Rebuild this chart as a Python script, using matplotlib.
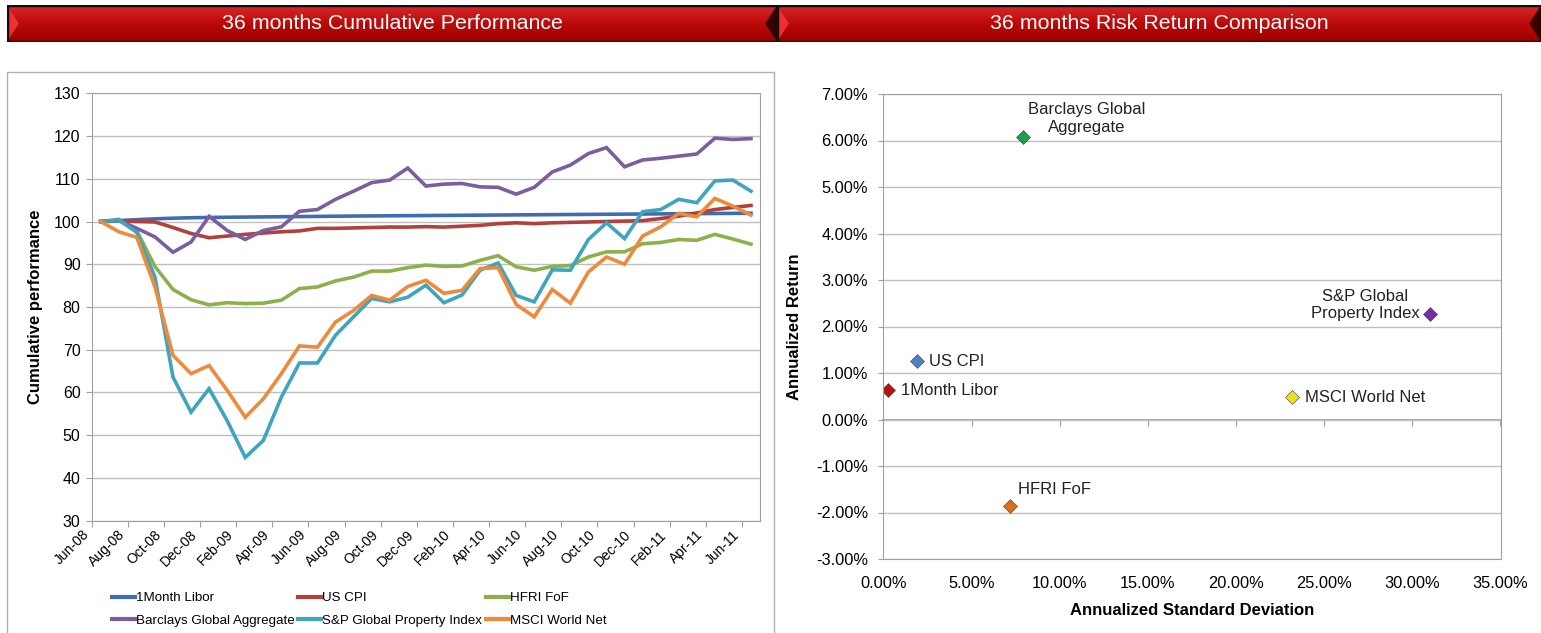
import numpy as np
import matplotlib
matplotlib.use('Agg')
import matplotlib.pyplot as plt
from matplotlib.lines import Line2D
from matplotlib.patches import Rectangle, Polygon
from matplotlib.colors import LinearSegmentedColormap
from matplotlib.ticker import FuncFormatter

plt.rcParams['font.family'] = ['Liberation Sans', 'DejaVu Sans']

# ---- cumulative performance (index = 100 at Jun-08), monthly Jun-08 .. Jun-11
libor = [100.0, 100.22, 100.43, 100.62, 100.78, 100.88, 100.95, 101.0, 101.04, 101.08,
         101.12, 101.16, 101.2, 101.24, 101.28, 101.31, 101.34, 101.37, 101.4, 101.43,
         101.46, 101.49, 101.52, 101.55, 101.58, 101.61, 101.64, 101.67, 101.7, 101.73,
         101.76, 101.79, 101.82, 101.85, 101.88, 101.91, 101.94]
us_cpi = [100.0, 100.1, 100.0, 99.9, 98.6, 97.2, 96.2, 96.6, 97.0, 97.3, 97.6, 97.8,
          98.4, 98.4, 98.5, 98.6, 98.7, 98.7, 98.8, 98.7, 98.9, 99.1, 99.5, 99.7, 99.5,
          99.7, 99.8, 99.9, 100.0, 100.1, 100.2, 100.7, 101.25, 102.0, 102.8, 103.3, 103.75]
hfri = [100.0, 100.2, 97.8, 89.5, 84.1, 81.7, 80.5, 81.0, 80.8, 80.9, 81.6, 84.3, 84.7,
        86.1, 87.0, 88.4, 88.4, 89.2, 89.8, 89.5, 89.6, 90.9, 92.0, 89.4, 88.6, 89.5,
        89.7, 91.7, 92.9, 92.9, 94.8, 95.1, 95.8, 95.6, 97.0, 95.9, 94.7]
barclays = [100.0, 100.3, 98.4, 96.4, 92.8, 95.2, 101.2, 97.9, 95.8, 97.9, 98.75, 102.4,
            102.8, 105.2, 107.1, 109.1, 109.7, 112.5, 108.3, 108.75, 108.9, 108.1, 108.0,
            106.4, 108.0, 111.6, 113.2, 115.9, 117.3, 112.8, 114.4, 114.8, 115.3, 115.8,
            119.5, 119.2, 119.4]
sp_property = [100.0, 100.5, 97.4, 87.0, 63.6, 55.4, 60.9, 53.4, 44.8, 48.75, 58.9, 66.9,
               66.9, 73.4, 77.7, 82.0, 81.2, 82.3, 85.1, 81.0, 82.8, 88.6, 90.3, 82.7,
               81.2, 88.7, 88.6, 95.8, 99.7, 96.0, 102.3, 102.8, 105.2, 104.4, 109.5,
               109.7, 107.1]
msci = [100.0, 97.6, 96.3, 84.7, 68.7, 64.4, 66.3, 60.5, 54.2, 58.5, 64.4, 70.9, 70.6,
        76.5, 79.2, 82.7, 81.6, 84.8, 86.25, 83.2, 83.9, 89.0, 89.2, 80.6, 77.7, 84.1,
        80.9, 88.2, 91.7, 90.0, 96.6, 98.75, 101.9, 101.1, 105.4, 103.6, 101.5]

tick_labels = ['Jun-08', 'Aug-08', 'Oct-08', 'Dec-08', 'Feb-09', 'Apr-09', 'Jun-09',
               'Aug-09', 'Oct-09', 'Dec-09', 'Feb-10', 'Apr-10', 'Jun-10', 'Aug-10',
               'Oct-10', 'Dec-10', 'Feb-11', 'Apr-11', 'Jun-11']

series = [('1Month Libor', libor, '#3F6DB0'),
          ('US CPI', us_cpi, '#B2403D'),
          ('HFRI FoF', hfri, '#8DB04C'),
          ('Barclays Global Aggregate', barclays, '#7B5E9F'),
          ('S&P Global Property Index', sp_property, '#3FA5BE'),
          ('MSCI World Net', msci, '#EE8A3C')]

# ---- risk / return
rr_names = ['1Month Libor', 'US CPI', 'HFRI FoF', 'Barclays Global\nAggregate',
            'S&P Global\nProperty Index', 'MSCI World Net']
rr_std = [0.28, 1.88, 7.18, 7.9, 30.98, 23.2]
rr_ret = [0.63, 1.25, -1.85, 6.07, 2.27, 0.48]
rr_colors = ['#B01515', '#4F81BD', '#D8701A', '#1E9E4E', '#7030A0', '#E8E020']
rr_offsets = [(9, -0.5), (8.8, 0), (6, 11.2), (45.7, 13.5), (-46.4, 6.6), (8.8, 0)]
rr_align = ['left', 'left', 'left', 'center', 'center', 'left']

W, H = 1541, 633
fig = plt.figure(figsize=(W / 100, H / 100), dpi=100)

grid_c = '#BFBFBF'
frame_c = '#A0A0A0'


def header(x0, x1, title):
    hx = fig.add_axes([x0 / W, 1 - 42 / H, (x1 - x0) / W, 37 / H])
    w = x1 - x0
    cmap = LinearSegmentedColormap.from_list('bar', ['#D82828', '#BC0A0A', '#9C0000'])
    hx.imshow(np.linspace(0, 1, 60).reshape(-1, 1), aspect='auto', cmap=cmap,
              extent=[0, w, 0, 37], origin='upper')
    hx.add_patch(Polygon([(1, 3), (11, 18.5), (1, 34)], color='#F03030'))
    hx.add_patch(Polygon([(w - 1, 3), (w - 11, 18.5), (w - 1, 34)], color='#3A0000'))
    hx.add_patch(Rectangle((0, 0), w, 37, fill=False, ec='#101010', lw=2.5))
    hx.set_xlim(0, w)
    hx.set_ylim(0, 37)
    hx.axis('off')
    hx.text(w / 2, 18.5, title, color='white', fontsize=15.4, ha='center', va='center')


header(7, 777, '36 months Cumulative Performance')
header(777, 1541, '36 months Risk Return Comparison')

# panel border round the left chart
fig.patches.append(Rectangle((7 / W, -0.01), 767 / W, 1 - 72 / H + 0.01, fill=False,
                             ec='#B0B0B0', lw=1, transform=fig.transFigure))

# ---- left chart
ax = fig.add_axes([91.7 / W, 1 - 520.7 / H, (760 - 91.7) / W, (520.7 - 93.3) / H])
x = np.arange(len(libor))
for name, vals, col in series:
    ax.plot(x, vals, color=col, lw=2.6, solid_joinstyle='miter')
ax.set_xlim(-0.5, 36.5)
ax.set_ylim(30, 130)
ax.set_yticks(np.arange(30, 131, 10))
ax.set_xticks(np.arange(-0.5, 36, 2))
ax.set_xticklabels(tick_labels, rotation=45, ha='right', va='top', fontsize=10)
ax.tick_params(axis='x', length=4, color=frame_c, pad=1)
ax.tick_params(axis='y', length=4, color=frame_c, labelsize=11.5, pad=4)
ax.yaxis.grid(True, color=grid_c, lw=1)
ax.set_axisbelow(True)
for s in ax.spines.values():
    s.set_color(frame_c)
ax.set_ylabel('Cumulative performance', fontweight='bold', fontsize=12, labelpad=8)

handles = {name: Line2D([0], [0], color=col, lw=3) for name, vals, col in series}
order = ['1Month Libor', 'Barclays Global Aggregate', 'US CPI',
         'S&P Global Property Index', 'HFRI FoF', 'MSCI World Net']
fig.legend([handles[n] for n in order], order, ncol=3, frameon=False,
           loc='upper left', bbox_to_anchor=(112 / W, 1 - 592 / H), fontsize=9.6,
           handlelength=1.7, handletextpad=0.08, columnspacing=0.3, labelspacing=0.75,
           borderaxespad=0, borderpad=0)

# ---- right chart
ax2 = fig.add_axes([883.5 / W, 1 - 559 / H, (1500.5 - 883.5) / W, (559 - 94) / H])
for xs, ys, col, name, off, al in zip(rr_std, rr_ret, rr_colors, rr_names, rr_offsets, rr_align):
    ax2.plot(xs, ys, 'D', color=col, ms=7.5, mec='#404040', mew=0.4)
    ax2.annotate(name, (xs, ys), xytext=off, textcoords='offset points', ha=al,
                 va='center', fontsize=12, color='#222222', linespacing=1.2)
ax2.set_xlim(0, 35)
ax2.set_ylim(-3, 7)
ax2.set_xticks(np.arange(0, 36, 5))
ax2.set_yticks(np.arange(-3, 8, 1))
pct = FuncFormatter(lambda v, p: '%.2f%%' % v)
ax2.xaxis.set_major_formatter(pct)
ax2.yaxis.set_major_formatter(pct)
ax2.tick_params(axis='x', length=0, labelsize=11.8, pad=12)
ax2.tick_params(axis='y', length=3.5, color=frame_c, labelsize=11.8, pad=7.5)
ax2.yaxis.grid(True, color=grid_c, lw=1)
ax2.set_axisbelow(True)
for s in ax2.spines.values():
    s.set_color(frame_c)
zero_axis = ax2.secondary_xaxis(0.3)
zero_axis.set_xticks(np.arange(0, 36, 5))
zero_axis.tick_params(axis='x', length=4, color=frame_c, labelbottom=False)
zero_axis.spines['bottom'].set_color(frame_c)
zero_axis.spines['bottom'].set_linewidth(1.3)
ax2.set_xlabel('Annualized Standard Deviation', fontweight='bold', fontsize=12,
               labelpad=9)
ax2.set_ylabel('Annualized Return', fontweight='bold', fontsize=12, labelpad=10)

fig.savefig('out.png', dpi=100, facecolor='white')
